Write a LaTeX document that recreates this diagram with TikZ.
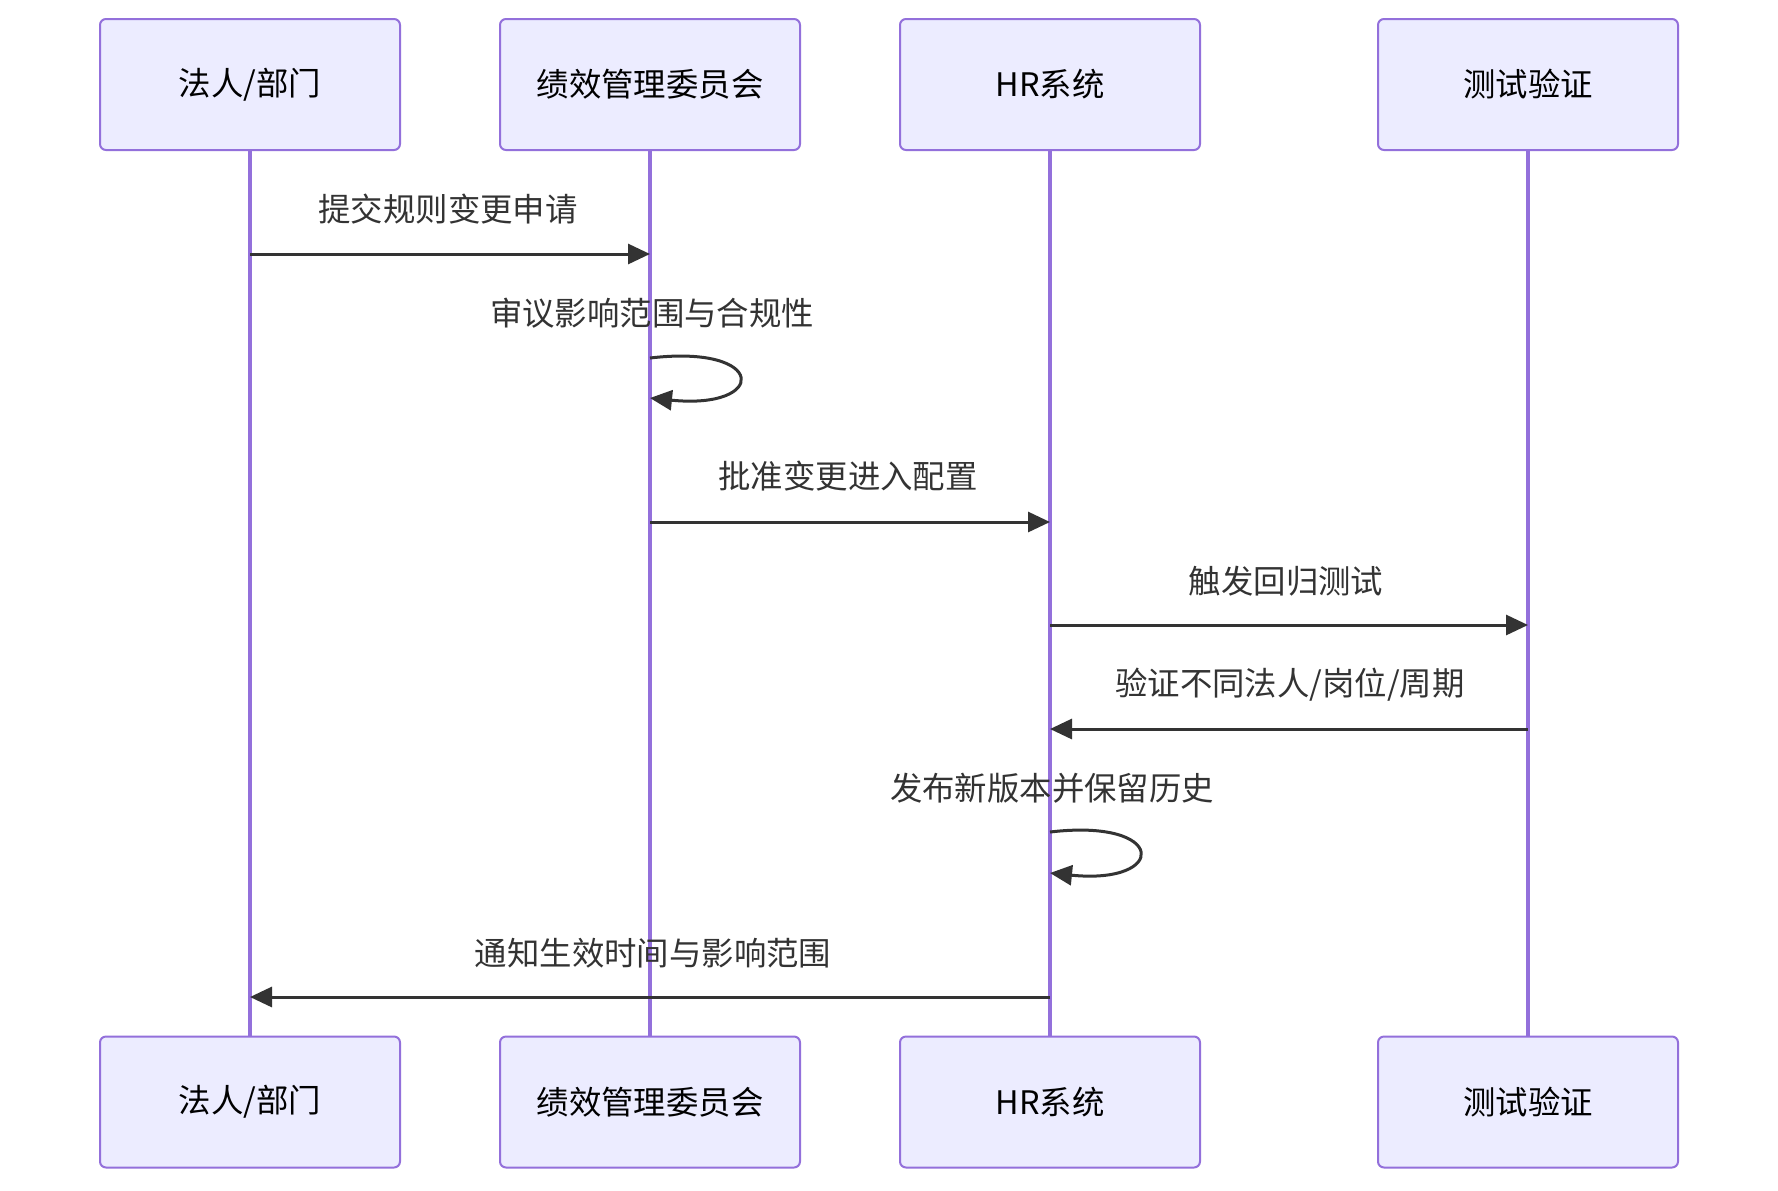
\documentclass[tikz,border=0pt]{standalone}
\usepackage{fontspec}
\setmainfont{Noto Sans CJK SC}
\usetikzlibrary{arrows.meta}
\definecolor{actorfill}{HTML}{ECECFF}
\definecolor{actorline}{HTML}{9370DB}
\definecolor{msgline}{HTML}{333333}
\tikzset{
  actor/.style={draw=actorline, fill=actorfill, line width=1pt, rounded corners=3pt,
    minimum width=150pt, minimum height=65.5pt, inner sep=0pt,
    font=\fontsize{16.2}{19}\selectfont, text=black},
  life/.style={draw=actorline, line width=1.8pt},
  msg/.style={-{Triangle[length=11pt, width=10pt]}, line width=1.5pt, color=msgline},
  msgtext/.style={font=\fontsize{16.2}{19}\selectfont, text=msgline, inner sep=0pt}
}

\begin{document}
\begin{tikzpicture}[x=0.5pt, y=-0.5pt]
\useasboundingbox[fill=white] (0,0) rectangle (1778,1190);
% actors, top and bottom
\node[actor] (law1) at (250,84.5) {法人/部门};
\node[actor] (com1) at (650,84.5) {绩效管理委员会};
\node[actor] (hr1)  at (1050,84.5) {HR系统};
\node[actor] (tst1) at (1528,84.5) {测试验证};
\node[actor] (law2) at (250,1102) {法人/部门};
\node[actor] (com2) at (650,1102) {绩效管理委员会};
\node[actor] (hr2)  at (1050,1102) {HR系统};
\node[actor] (tst2) at (1528,1102) {测试验证};
% lifelines
\draw[life] (law1.south) -- (law2.north);
\draw[life] (com1.south) -- (com2.north);
\draw[life] (hr1.south) -- (hr2.north);
\draw[life] (tst1.south) -- (tst2.north);
% messages
\node[msgtext] (m1) at (448,209) {提交规则变更申请};
\draw[msg] (law1 |- 0,254) -- (com1 |- 0,254);
\node[msgtext] (m2) at (652,313) {审议影响范围与合规性};
\draw[msg] (com1 |- 0,358) .. controls +(118,-14) and +(118,12) .. (com1 |- 0,398);
\node[msgtext] (m3) at (848,476) {批准变更进入配置};
\draw[msg] (com1 |- 0,522) -- (hr1 |- 0,522);
\node[msgtext] (m4) at (1286,581) {触发回归测试};
\draw[msg] (hr1 |- 0,625) -- (tst1 |- 0,625);
\node[msgtext] (m5) at (1290,685) {验证不同法人/岗位/周期};
\draw[msg] (tst1 |- 0,729) -- (hr1 |- 0,729);
\node[msgtext] (m6) at (1052,788) {发布新版本并保留历史};
\draw[msg] (hr1 |- 0,832) .. controls +(118,-14) and +(118,12) .. (hr1 |- 0,873);
\node[msgtext] (m7) at (653,953) {通知生效时间与影响范围};
\draw[msg] (hr1 |- 0,997) -- (law1 |- 0,997);
\end{tikzpicture}
\end{document}
